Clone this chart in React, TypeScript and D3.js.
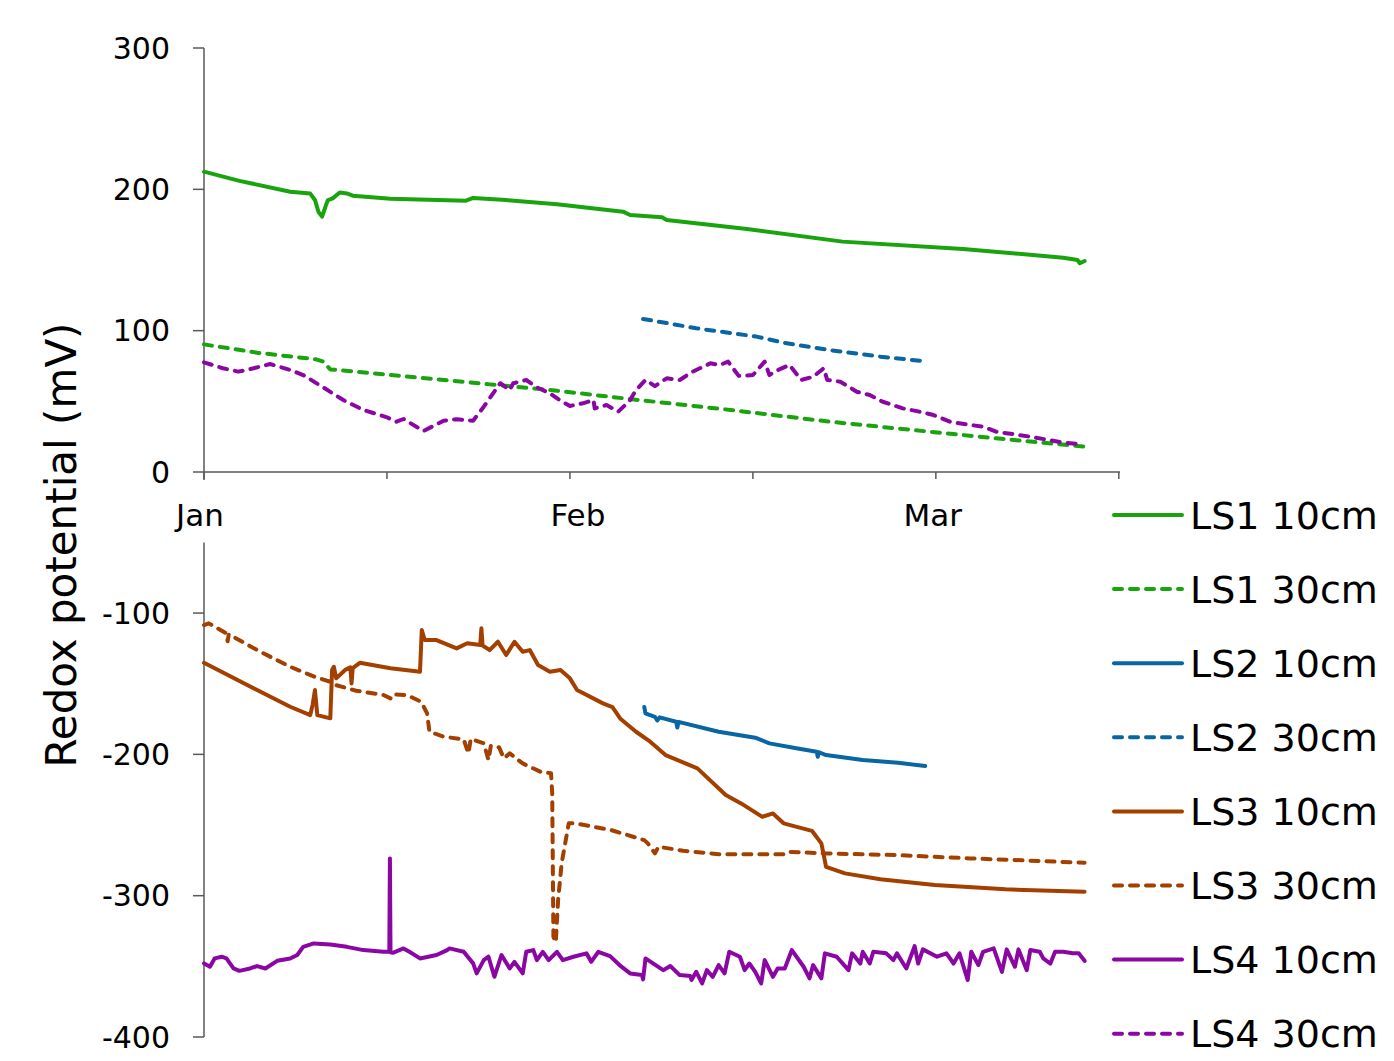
import React from "react";
import * as d3 from "d3";

type P = [number, number];

// x = days since 1 Jan (month ticks every 31 days), y = redox potential (mV)
const monthTicks = [0, 31, 62];
const monthLabels = ["Jan", "Feb", "Mar"];
const minorTicks = [15.5, 46.5, 77.5];
const topTicks = [0, 100, 200, 300];
const bottomTicks = [-100, -200, -300, -400];

const ls1_10: P[] = [[0,212.5],[3,206],[7.3,198.3],[9,197],[9.4,192.5],[9.7,184],[10,180.7],[10.3,188],[10.5,192.4],[10.9,193.6],[11.5,197.8],[12.1,197.1],[12.6,195.5],[15.8,193.4],[22.2,192],[22.8,193.9],[25.6,192.4],[29.9,189.4],[35.5,184.2],[36.1,181.8],[38.8,180.2],[39.2,178.3],[46,171.9],[54.1,163],[64.3,157.8],[72.8,151.6],[74,150],[74.2,147.7],[74.6,149.3]];
const ls1_30: P[] = [[0,90.3],[4.5,84.4],[9.5,79.7],[10.1,78.1],[10.7,72.6],[15.8,68.6],[24.2,62],[29.9,57.5],[36.1,51.6],[44.6,43.9],[53,35.6],[61.5,28.5],[67.1,23.8],[74.6,17.9]];
const ls2_10: P[] = [[37.3,-166.5],[37.4,-171],[38.2,-173.4],[38.4,-176],[38.6,-173.8],[40,-176.9],[40.1,-181],[40.2,-177],[43.6,-184],[46.7,-188.2],[47.9,-192.2],[50.3,-195.8],[51.9,-198.2],[52.0,-201.7],[52.1,-198.5],[52.7,-200.5],[55.8,-204],[58.8,-205.9],[61.1,-208.3]];
const ls2_30: P[] = [[37.2,108.3],[41.7,101.7],[46.8,95.8],[49.1,91.5],[53,86.3],[57.3,81.6],[60.9,78.5]];
const ls3_10: P[] = [[0,-135.2],[4.5,-154.5],[7.3,-166.3],[9,-172.2],[9.2,-165],[9.4,-154.5],[9.6,-172.2],[10.7,-174.5],[10.85,-140.3],[11.0,-138],[11.2,-146.2],[12.0,-140],[12.4,-138.4],[12.5,-149.8],[12.6,-139],[13.2,-135.2],[15.8,-139.1],[18.3,-141.5],[18.45,-112],[18.7,-119.1],[19.7,-119.1],[21.4,-125],[22.3,-121.4],[23.4,-122.6],[23.5,-110.8],[23.6,-123],[24.2,-126.2],[24.9,-120.3],[25.6,-129.7],[26.3,-120.3],[27,-127.4],[27.6,-126.2],[28.3,-136.8],[29.3,-141.5],[30.2,-140.3],[31,-146.2],[31.6,-154.5],[33.8,-163.9],[34.6,-166.5],[35.3,-175],[36.6,-184],[37.8,-191],[39.1,-200.5],[41.8,-209.9],[44.2,-228.8],[45.5,-234.7],[47.3,-244.2],[48.2,-241.8],[49.1,-248.8],[51.5,-254.1],[52.3,-263],[52.7,-279.6],[54.3,-284.2],[57.3,-288.3],[61.9,-292.5],[67.9,-295.5],[74.6,-297.2]];
const ls3_30: P[] = [[0,-108.5],[0.4,-107.3],[1.9,-114.4],[2.0,-120],[2.1,-115],[4.5,-126.2],[7.3,-138],[9.5,-145.5],[10.7,-148.6],[11.2,-151],[12.9,-155],[15.2,-158],[15.8,-160.4],[16.0,-157.5],[17.2,-158],[18.4,-162.8],[18.9,-171],[19.1,-184],[20.3,-187.5],[22,-189.4],[22.4,-199.3],[22.6,-189],[23.7,-192.2],[24.1,-204],[24.3,-194],[25.0,-195],[25.4,-202.8],[25.9,-199.3],[27,-206.4],[28.5,-212.3],[29.4,-213.4],[29.5,-227.6],[29.6,-329],[29.8,-333],[30.0,-303],[30.3,-277],[30.9,-248.8],[31.5,-248.8],[34.5,-253.6],[37.3,-260.7],[37.6,-263],[38.2,-270.1],[38.5,-265.4],[40.6,-268.2],[43.6,-270.6],[49.4,-270.6],[49.7,-269],[52.7,-270.1],[58.8,-271.3],[64.9,-273.6],[71,-275.5],[74.6,-276.7]];
const ls4_10: P[] = [[0,-347.9],[0.5,-350.3],[0.9,-344.4],[1.5,-343.2],[1.9,-344.4],[2.5,-351.5],[3.0,-353.2],[3.9,-351.5],[4.5,-349.8],[5.2,-351.5],[6.2,-346.1],[7.3,-344.4],[7.9,-342],[8.4,-336.2],[9.3,-333.8],[10.7,-334.5],[12.1,-336.2],[13.5,-338.5],[15.2,-339.7],[15.7,-339.7],[15.75,-273.6],[15.8,-340],[16.0,-340.4],[16.9,-337.3],[17.4,-339.7],[18.3,-344.4],[19.7,-342],[20.6,-338.5],[20.8,-337.3],[22.0,-339.7],[22.8,-347.9],[23.1,-355],[23.7,-345.6],[24.1,-343.2],[24.6,-357.4],[25.2,-342],[25.9,-351.5],[26.3,-346.8],[27.0,-355],[27.3,-339.7],[27.9,-338.5],[28.2,-345.6],[28.7,-339.7],[29.2,-345.6],[29.9,-339.7],[30.4,-345.6],[31.3,-343.2],[32.4,-340.8],[32.8,-346.8],[33.4,-339.7],[34.4,-342.8],[35.2,-349.1],[36.1,-355],[37.1,-356.2],[37.2,-359.2],[37.4,-344.4],[38.9,-352.7],[39.5,-349.8],[40.3,-356.2],[41.2,-356.9],[41.3,-359.7],[41.7,-353.9],[42.2,-362.1],[42.6,-352.7],[43.1,-357.4],[43.6,-349.1],[44.1,-355],[44.5,-339.7],[45.4,-343.2],[45.8,-352.7],[46.2,-348],[46.7,-353.9],[47.2,-362.1],[47.5,-345.6],[48.2,-357.4],[48.6,-351.5],[49.2,-351.5],[49.8,-338.5],[50.8,-350.3],[51.3,-358.5],[51.6,-349.1],[52.3,-358.5],[52.6,-340.8],[53.6,-343.2],[54.6,-352.7],[54.9,-340.8],[55.6,-348],[55.8,-339.7],[56.4,-348],[56.7,-339.7],[57.8,-340.8],[58.4,-345.6],[58.7,-340.8],[59.5,-351.5],[60.2,-335.7],[60.5,-348],[60.9,-338],[62.1,-343.2],[62.9,-340.8],[63.5,-348],[64.0,-340.8],[64.7,-359.7],[65.0,-339.7],[65.6,-349.1],[66.0,-339.7],[66.9,-337.3],[67.6,-353.9],[68.0,-338],[68.7,-350.3],[69.0,-338],[69.7,-352.7],[70.0,-338.5],[70.8,-339.7],[71.1,-344.4],[71.7,-348],[72.1,-339.7],[72.8,-339.7],[73.6,-340.8],[74.1,-340.8],[74.6,-346.1]];
const ls4_30: P[] = [[0,77.6],[1.6,73.4],[2.9,71],[4.2,73.4],[5.6,76.4],[7.3,72.2],[8.4,68.6],[10.1,59.9],[11.8,50.9],[13.5,43.9],[15.5,38.7],[16.3,35.6],[16.9,37.5],[18.6,29],[20.3,36.3],[21.4,37.3],[22.8,36.3],[23.7,46.2],[25.1,62.8],[25.9,58],[26.2,62.8],[27.3,65.1],[28.2,59.9],[29.3,55.7],[30.2,50.4],[31,46.7],[32.1,48.6],[33.0,50.9],[33.1,45],[34.1,47.4],[35.1,42.7],[36.1,50.9],[36.6,58],[37.4,65.1],[38.2,60.8],[39.2,66.3],[40.3,65.1],[41.4,71],[42.9,76.9],[43.7,75.7],[44.4,78.1],[45.3,68],[46.5,68.6],[47.5,78.1],[47.9,68.6],[48.5,71.7],[49.6,75.7],[50.6,65.1],[51.6,67.4],[52.5,73.4],[52.8,65.1],[53.9,63.9],[55.3,56.8],[56.4,54.5],[57.5,49.7],[59.2,45],[60.6,42.7],[61.8,40.3],[63.2,35.6],[64.9,33.3],[66,32.1],[67.1,28.5],[70,25],[72.8,20.8],[74.3,19.6]];

const GREEN = "#19a30c";
const BLUE = "#0966a3";
const BROWN = "#a34000";
const PURPLE = "#8b07a3";

type Series = { name: string; data: P[]; color: string; dashed: boolean; panel: "top" | "bottom" };
const series: Series[] = [
  { name: "LS1 10cm", data: ls1_10, color: GREEN, dashed: false, panel: "top" },
  { name: "LS1 30cm", data: ls1_30, color: GREEN, dashed: true, panel: "top" },
  { name: "LS2 10cm", data: ls2_10, color: BLUE, dashed: false, panel: "bottom" },
  { name: "LS2 30cm", data: ls2_30, color: BLUE, dashed: true, panel: "top" },
  { name: "LS3 10cm", data: ls3_10, color: BROWN, dashed: false, panel: "bottom" },
  { name: "LS3 30cm", data: ls3_30, color: BROWN, dashed: true, panel: "bottom" },
  { name: "LS4 10cm", data: ls4_10, color: PURPLE, dashed: false, panel: "bottom" },
  { name: "LS4 30cm", data: ls4_30, color: PURPLE, dashed: true, panel: "top" },
];

export default function App() {
  const W = 1394, H = 1061;
  const font = "'DejaVu Sans', sans-serif";
  const axisColor = "#595959";
  const x = d3.scaleLinear().domain([0, 77.6]).range([204, 1120]);
  const yTop = d3.scaleLinear().domain([0, 300]).range([472, 48]);
  const yBot = d3.scaleLinear().domain([-400, -50]).range([1037, 542.4]);
  const lineTop = d3.line<P>().x(d => x(d[0])).y(d => yTop(d[1]));
  const lineBot = d3.line<P>().x(d => x(d[0])).y(d => yBot(d[1]));
  const dash = "8 8";
  const sw = 4;

  return (
    <svg width={W} height={H} style={{ position: "absolute", left: 0, top: 0, background: "#fff", overflow: "hidden" }}
      viewBox={`0 0 ${W} ${H}`}>
      <rect x={0} y={0} width={W} height={H} fill="#fff" />
      {/* top panel axes */}
      <line x1={x(0)} x2={x(0)} y1={yTop(300)} y2={yTop(0) + 8} stroke={axisColor} strokeWidth={1.5} />
      <line x1={x(0)} x2={x(77.6)} y1={yTop(0)} y2={yTop(0)} stroke={axisColor} strokeWidth={1.5} />
      {topTicks.map(t => (
        <g key={"tt" + t}>
          <line x1={x(0) - 11} x2={x(0)} y1={yTop(t)} y2={yTop(t)} stroke={axisColor} strokeWidth={1.5} />
          <text x={170} y={yTop(t)} dy="0.36em" textAnchor="end" fontFamily={font} fontSize={30} fill="#000">{t}</text>
        </g>
      ))}
      {[...monthTicks, ...minorTicks].map(t => (
        <line key={"xt" + t} x1={x(t)} x2={x(t)} y1={yTop(0)} y2={yTop(0) + 7} stroke={axisColor} strokeWidth={1.5} />
      ))}
      {monthTicks.map((t, i) => (
        <text key={"xl" + t} x={x(t) + (i === 0 ? -4 : i === 1 ? 8 : -3)} y={526} textAnchor="middle" fontFamily={font} fontSize={31} fill="#000">{monthLabels[i]}</text>
      ))}
      {/* bottom panel axis */}
      <line x1={x(0)} x2={x(0)} y1={yBot(-50)} y2={yBot(-400)} stroke={axisColor} strokeWidth={1.5} />
      {bottomTicks.map(t => (
        <g key={"bt" + t}>
          <line x1={x(0) - 11} x2={x(0)} y1={yBot(t)} y2={yBot(t)} stroke={axisColor} strokeWidth={1.5} />
          <text x={170} y={yBot(t)} dy="0.36em" textAnchor="end" fontFamily={font} fontSize={30} fill="#000">{t}</text>
        </g>
      ))}
      {/* y label */}
      <text transform={`translate(76,545) rotate(-90)`} textAnchor="middle" fontFamily={font} fontSize={42} fill="#000">Redox potential (mV)</text>
      {/* series */}
      {series.map(s => (
        <path key={s.name} d={(s.panel === "top" ? lineTop : lineBot)(s.data) || ""} fill="none" stroke={s.color}
          strokeWidth={sw} strokeLinejoin="round" strokeLinecap="round" strokeDasharray={s.dashed ? dash : undefined} />
      ))}
      {/* legend */}
      {series.map((s, i) => {
        const yy = 515 + i * 74.1;
        return (
          <g key={"lg" + s.name}>
            <line x1={1114} x2={1182} y1={yy} y2={yy} stroke={s.color} strokeWidth={sw} strokeLinecap="round"
              strokeDasharray={s.dashed ? dash : undefined} />
            <text x={1190} y={yy} dy="0.36em" fontFamily={font} fontSize={38} fill="#000">{s.name}</text>
          </g>
        );
      })}
    </svg>
  );
}
